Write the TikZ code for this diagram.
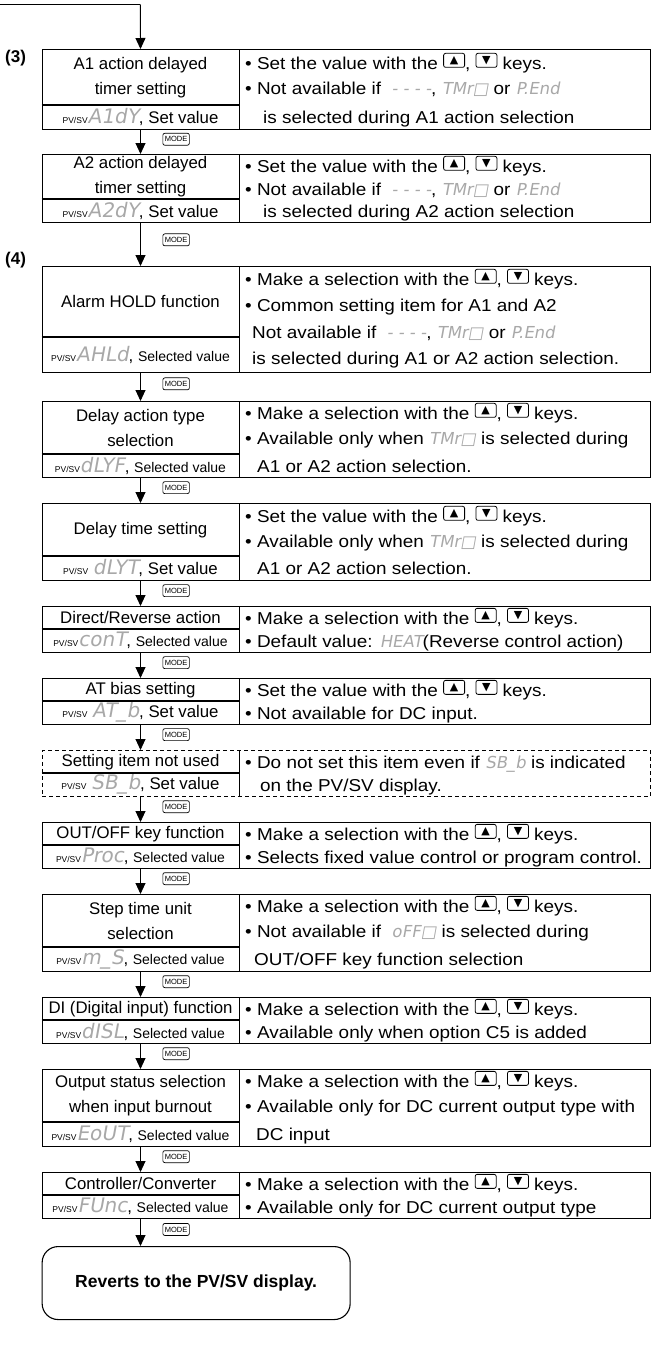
\documentclass[tikz,border=0pt]{standalone}
\usepackage{fontspec}
\setmainfont{Liberation Sans}
\newfontfamily\rfont{Liberation Sans}[FakeStretch=1.1]
\newfontfamily\symf{DejaVu Sans}
\newfontfamily\segf{DejaVu Sans}[FakeSlant=0.18]
\usetikzlibrary{arrows.meta}
\definecolor{segc}{gray}{0.66}
\newcommand\fs[1]{\fontsize{#1}{#1}\selectfont}
\newcommand\fsb[2]{\fontsize{#1}{#2}\selectfont}
\newcommand\pvsv{{\fs{8.5}PV/SV}}
\newcommand\segL[1]{{\segf\fs{20}\color{segc}#1}}
\newcommand\segR[1]{{\segf\fs{16.5}\color{segc}#1}}
\tikzset{
 keyb/.style={draw, line width=0.8pt, rounded corners=2pt, minimum width=21pt, minimum height=14pt, inner sep=0pt},
 outer/.style={draw, line width=1.1pt, minimum width=608.4pt, inner sep=0pt, anchor=north west},
 lcell/.style={minimum width=197.4pt, inner sep=0pt, anchor=north west, align=center, font=\fsb{16.8}{25}},
 innerln/.style={line width=1.1pt},
 rt/.style={inner sep=0pt, anchor=base west, font=\rfont\fs{17.2}},
 arr/.style={line width=0.9pt, -{Triangle[length=11pt,width=10pt]}},
 modek/.style={draw, line width=0.7pt, rounded corners=2pt, font=\fs{7.5}, inner xsep=2pt, inner ysep=1.5pt, minimum height=12pt, anchor=west, xshift=22pt},
 rbox/.style={draw, line width=1.1pt, rounded corners=16pt, minimum width=308pt, minimum height=73pt, inner sep=0pt, anchor=north west, font=\bfseries\fs{17.5}},
 num/.style={font=\bfseries\fs{17}, anchor=west, inner sep=0pt},
 dashedbox/.style={dash pattern=on 4pt off 3pt},
 solidbox/.style={solid},
}
\newcommand\kup{\tikz[baseline={(0pt,-6pt)}]\node[keyb]{\symf\fs{11}▲};}
\newcommand\kdn{\tikz[baseline={(0pt,-6pt)}]\node[keyb]{\symf\fs{11}▼};}
\newcommand\blk[7]{%
 \node[outer,#5, minimum height={(#4-#2)*1pt}] (b#1) at (41.6,#2) {};
 \node[lcell, minimum height={(#3-#2)*1pt}] (t#1) at (41.6,#2) {#6};
 \node[lcell, minimum height={(#4-#3)*1pt}] (s#1) at (41.6,#3) {#7};
 \draw[innerln] (t#1.north east) -- (s#1.south east);
 \draw[innerln] (s#1.north west) -- (s#1.north east);
}
\newcommand\rl[4]{\node[rt] (#1) at (#2,#3+6.2) {#4};}
\newcommand\selk{{\fs{14}Selected value}}
\begin{document}
\begin{tikzpicture}[x=1pt,y=-1pt]
\useasboundingbox (0,0) rectangle (652,1365);
% start
\coordinate (s0) at (0,4.5);
\coordinate (c0) at (140.3,4.5);
\draw[innerln] (s0) -- (c0);
\node[num] (n3) at (5,58) {(3)};
\node[num] (n4) at (5,260) {(4)};
% blocks
\blk{1}{49}{105}{129}{solidbox}{A1 action delayed\\timer setting}{\pvsv\segL{A1dY}, Set value}
\rl{r1a}{245}{63}{• Set the value with the \kup, \kdn\ keys.}
\rl{r1b}{245}{88}{• Not available if \ \segR{- - - -}, \segR{TMr□} or \segR{P.End}}
\rl{r1c}{263}{117}{is selected during A1 action selection}
\blk{2}{154}{199}{222}{solidbox}{A2 action delayed\\timer setting}{\pvsv\segL{A2dY}, Set value}
\rl{r2a}{245}{166}{• Set the value with the \kup, \kdn\ keys.}
\rl{r2b}{245}{189}{• Not available if \ \segR{- - - -}, \segR{TMr□} or \segR{P.End}}
\rl{r2c}{263}{211}{is selected during A2 action selection}
\blk{3}{266}{337}{372}{solidbox}{Alarm HOLD function}{\pvsv\segL{AHLd}, \selk}
\rl{r3a}{245}{279}{• Make a selection with the \kup, \kdn\ keys.}
\rl{r3b}{245}{305}{• Common setting item for A1 and A2}
\rl{r3c}{252}{332}{Not available if \ \segR{- - - -}, \segR{TMr□} or \segR{P.End}}
\rl{r3d}{252}{358}{is selected during A1 or A2 action selection.}
\blk{4}{401}{454}{477}{solidbox}{Delay action type\\selection}{\pvsv\segL{dLYF}, \selk}
\rl{r4a}{245}{413}{• Make a selection with the \kup, \kdn\ keys.}
\rl{r4b}{245}{438}{• Available only when \segR{TMr□} is selected during}
\rl{r4c}{257}{466}{A1 or A2 action selection.}
\blk{5}{503}{556}{580}{solidbox}{Delay time setting}{\pvsv\ \segL{dLYT}, Set value}
\rl{r5a}{245}{516}{• Set the value with the \kup, \kdn\ keys.}
\rl{r5b}{245}{541}{• Available only when \segR{TMr□} is selected during}
\rl{r5c}{257}{568}{A1 or A2 action selection.}
\blk{6}{606}{629}{652}{solidbox}{Direct/Reverse action}{\pvsv\segL{conT}, \selk}
\rl{r6a}{245}{618}{• Make a selection with the \kup, \kdn\ keys.}
\rl{r6b}{245}{641}{• Default value: \segR{HEAT}(Reverse control action)}
\blk{7}{678}{701}{724}{solidbox}{AT bias setting}{\pvsv\ \segL{AT\_b}, Set value}
\rl{r7a}{245}{690}{• Set the value with the \kup, \kdn\ keys.}
\rl{r7b}{245}{713}{• Not available for DC input.}
\blk{8}{750}{773}{796}{dashedbox}{Setting item not used}{\pvsv\ \segL{SB\_b}, Set value}
\rl{r8a}{245}{762}{• Do not set this item even if \segR{SB\_b} is indicated}
\rl{r8b}{260}{785}{on the PV/SV display.}
\blk{9}{822}{845}{868}{solidbox}{OUT/OFF key function}{\pvsv\segL{Proc}, \selk}
\rl{r9a}{245}{834}{• Make a selection with the \kup, \kdn\ keys.}
\rl{r9b}{245}{857}{• Selects fixed value control or program control.}
\blk{10}{894}{947}{971}{solidbox}{Step time unit\\selection}{\pvsv\segL{m\_S}, \selk}
\rl{r10a}{245}{906}{• Make a selection with the \kup, \kdn\ keys.}
\rl{r10b}{245}{931}{• Not available if \ \segR{oFF□} is selected during}
\rl{r10c}{254}{959}{OUT/OFF key function selection}
\blk{11}{997}{1020}{1043}{solidbox}{DI (Digital input) function}{\pvsv\segL{dISL}, \selk}
\rl{r11a}{245}{1009}{• Make a selection with the \kup, \kdn\ keys.}
\rl{r11b}{245}{1032}{• Available only when option C5 is added}
\blk{12}{1069}{1122}{1146}{solidbox}{Output status selection\\when input burnout}{\pvsv\segL{EoUT}, \selk}
\rl{r12a}{245}{1081}{• Make a selection with the \kup, \kdn\ keys.}
\rl{r12b}{245}{1106}{• Available only for DC current output type with}
\rl{r12c}{256}{1134}{DC input}
\blk{13}{1172}{1195}{1218}{solidbox}{Controller/Converter}{\pvsv\segL{FUnc}, \selk}
\rl{r13a}{245}{1184}{• Make a selection with the \kup, \kdn\ keys.}
\rl{r13b}{245}{1207}{• Available only for DC current output type}
\node[rbox] (end) at (41.6,1246) {Reverts to the PV/SV display.};
% connectors
\draw[arr] (c0) -- (t1.north);
\draw[arr] (s1.south) -- node[modek,pos=0.4] (m1) {MODE} (t2.north);
\draw[arr] (s2.south) -- node[modek,pos=0.4] (m2) {MODE} (t3.north);
\draw[arr] (s3.south) -- node[modek,pos=0.4] (m3) {MODE} (t4.north);
\draw[arr] (s4.south) -- node[modek,pos=0.4] (m4) {MODE} (t5.north);
\draw[arr] (s5.south) -- node[modek,pos=0.4] (m5) {MODE} (t6.north);
\draw[arr] (s6.south) -- node[modek,pos=0.4] (m6) {MODE} (t7.north);
\draw[arr] (s7.south) -- node[modek,pos=0.4] (m7) {MODE} (t8.north);
\draw[arr] (s8.south) -- node[modek,pos=0.4] (m8) {MODE} (t9.north);
\draw[arr] (s9.south) -- node[modek,pos=0.4] (m9) {MODE} (t10.north);
\draw[arr] (s10.south) -- node[modek,pos=0.4] (m10) {MODE} (t11.north);
\draw[arr] (s11.south) -- node[modek,pos=0.4] (m11) {MODE} (t12.north);
\draw[arr] (s12.south) -- node[modek,pos=0.4] (m12) {MODE} (t13.north);
\draw[arr] (s13.south) -- node[modek,pos=0.4] (m13) {MODE} (s13.south |- end.north);
\end{tikzpicture}
\end{document}
